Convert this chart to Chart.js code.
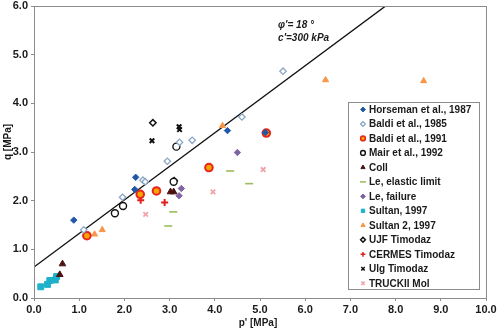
<!DOCTYPE html>
<html>
<head>
<meta charset="utf-8">
<script src="https://cdn.jsdelivr.net/npm/chart.js@4.4.0/dist/chart.umd.min.js"></script>
<style>
  html, body { margin: 0; padding: 0; background: #fff; }
  #wrap { width: 498px; height: 329px; }
</style>
</head>
<body>
<div id="wrap"><canvas id="chart" width="498" height="329"></canvas></div>
<script>
// values (p' and q in MPa)
const horsemanX = [0.88, 2.23, 2.25, 4.28, 5.12];
const horsemanY = [1.60, 2.23, 2.48, 3.44, 3.40];
const baldi85X = [1.10, 1.96, 2.41, 2.46, 2.95, 3.22, 3.50, 4.60, 5.51];
const baldi85Y = [1.40, 2.07, 2.42, 2.39, 2.81, 3.20, 3.24, 3.72, 4.66];
const baldi91X = [1.17, 2.35, 2.71, 3.87, 5.14];
const baldi91Y = [1.28, 2.13, 2.20, 2.68, 3.39];
const mairX = [1.79, 1.97, 3.09, 3.15];
const mairY = [1.74, 1.89, 2.39, 3.11];
const collX = [0.57, 0.63, 3.02, 3.09];
const collY = [0.48, 0.70, 2.18, 2.18];
const leElasticX = [2.97, 3.08, 4.34, 4.76];
const leElasticY = [1.48, 1.77, 2.61, 2.35];
const leFailureX = [3.21, 3.26, 4.50];
const leFailureY = [2.10, 2.25, 2.99];
const sultanX = [0.15, 0.30, 0.35, 0.47, 0.50];
const sultanY = [0.23, 0.28, 0.36, 0.37, 0.44];
const sultan2X = [1.34, 1.51, 4.17, 6.45, 8.62];
const sultan2Y = [1.31, 1.40, 3.54, 4.48, 4.46];
const ujfX = [2.63, 3.10];
const ujfY = [3.60, 2.41];
const cermesX = [2.36, 2.89];
const cermesY = [2.01, 1.96];
const ulgX = [2.61, 3.21, 3.22];
const ulgY = [3.23, 3.52, 3.46];
const truckiiX = [2.47, 3.96, 5.07];
const truckiiY = [1.72, 2.18, 2.64];

// failure line phi'=18, c'=300 kPa
const failX = [0, 7.78];
const failY = [0.636, 6.0];

const xTicks = [0, 1, 2, 3, 4, 5, 6, 7, 8, 9, 10];
const yTicks = [0, 1, 2, 3, 4, 5, 6];

const pts = (xs, ys) => xs.map((x, i) => ({ x: x, y: ys[i] }));

const series = [
  { label: "Horseman et al., 1987", x: horsemanX, y: horsemanY, style: "rectRot", r: 3.2, fill: "#2058a8", line: "#2058a8", bw: 1 },
  { label: "Baldi et al., 1985", x: baldi85X, y: baldi85Y, style: "rectRot", r: 3.2, fill: "#ffffff", line: "#8ba6c6", bw: 1.3 },
  { label: "Baldi et al., 1991", x: baldi91X, y: baldi91Y, style: "circle", r: 3.8, fill: "#f5a300", line: "#e8231c", bw: 2 },
  { label: "Mair et al., 1992", x: mairX, y: mairY, style: "circle", r: 3.5, fill: "#ffffff", line: "#111111", bw: 1.4 },
  { label: "Coll", x: collX, y: collY, style: "triangle", r: 3.8, fill: "#4a1212", line: "#4a1212", bw: 1 },
  { label: "Le, elastic limit", x: leElasticX, y: leElasticY, style: "line", r: 4, fill: "#9bbb59", line: "#9bbb59", bw: 1.6 },
  { label: "Le, failure", x: leFailureX, y: leFailureY, style: "rectRot", r: 3.2, fill: "#8064a2", line: "#8064a2", bw: 1 },
  { label: "Sultan, 1997", x: sultanX, y: sultanY, style: "rect", r: 4.2, fill: "#1fb1cb", line: "#1fb1cb", bw: 1 },
  { label: "Sultan 2, 1997", x: sultan2X, y: sultan2Y, style: "triangle", r: 3.5, fill: "#f79646", line: "#f79646", bw: 1 },
  { label: "UJF Timodaz", x: ujfX, y: ujfY, style: "rectRot", r: 3.2, fill: "#ffffff", line: "#111111", bw: 1.5 },
  { label: "CERMES Timodaz", x: cermesX, y: cermesY, style: "cross", r: 3.5, fill: "#e0201c", line: "#e0201c", bw: 2 },
  { label: "Ulg Timodaz", x: ulgX, y: ulgY, style: "crossRot", r: 3.2, fill: "#111111", line: "#111111", bw: 2 },
  { label: "TRUCKII Mol", x: truckiiX, y: truckiiY, style: "crossRot", r: 3.2, fill: "#f2a3aa", line: "#f2a3aa", bw: 1.8 }
];

const datasets = series.map(s => ({
  label: s.label,
  data: pts(s.x, s.y),
  pointStyle: s.style,
  pointRadius: s.r,
  pointHoverRadius: s.r,
  pointBackgroundColor: s.fill,
  pointBorderColor: s.line,
  pointBorderWidth: s.bw,
  backgroundColor: s.fill,
  borderColor: s.line,
  showLine: false
}));

datasets.unshift({
  label: "fail",
  data: pts(failX, failY),
  showLine: true,
  pointRadius: 0,
  borderColor: "#111111",
  borderWidth: 1.4,
  fill: false,
  order: 20
});

const tickFont = { family: "Liberation Sans, Arial, sans-serif", size: 11, weight: "bold" };

// frame, titles, annotation and legend box
const extras = {
  id: "extras",
  afterDraw(chart) {
    const ctx = chart.ctx;
    const a = chart.chartArea;
    const xs = chart.scales.x, ys = chart.scales.y;
    ctx.save();
    ctx.strokeStyle = "#8c8c8c";
    ctx.lineWidth = 1;
    ctx.strokeRect(Math.round(a.left) + 0.5, Math.round(a.top) + 0.5,
      Math.round(a.right - a.left), Math.round(a.bottom - a.top));

    ctx.fillStyle = "#1a1a1a";
    ctx.font = "bold 10px Liberation Sans, Arial, sans-serif";
    ctx.textAlign = "center";
    ctx.textBaseline = "middle";
    ctx.fillText("p' [MPa]", (a.left + a.right) / 2 - 2, 323);
    ctx.save();
    ctx.translate(8, 142);
    ctx.rotate(-Math.PI / 2);
    ctx.fillText("q [MPa]", 0, 0);
    ctx.restore();

    ctx.font = "italic bold 10px Liberation Sans, Arial, sans-serif";
    ctx.textAlign = "left";
    ctx.fillText("\u03C6'= 18 \u00B0", xs.getPixelForValue(5.4), ys.getPixelForValue(5.6));
    ctx.fillText("c'=300 kPa", xs.getPixelForValue(5.4), ys.getPixelForValue(5.33));

    // legend
    const bx = 348, by = 102, bw = 131, bh = 187;
    ctx.fillStyle = "#ffffff";
    ctx.fillRect(bx, by, bw, bh);
    ctx.strokeStyle = "#8c8c8c";
    ctx.strokeRect(bx + 0.5, by + 0.5, bw, bh);
    ctx.font = "bold 10px Liberation Sans, Arial, sans-serif";
    ctx.textBaseline = "middle";
    series.forEach((s, i) => {
      const cy = 109.5 + i * 14.48;
      ctx.fillStyle = s.fill;
      ctx.strokeStyle = s.line;
      ctx.lineWidth = Math.min(s.bw, 1.5);
      Chart.helpers.drawPoint(ctx, {
        pointStyle: s.style,
        radius: s.style === "line" ? 3 : 2.4,
        rotation: 0,
        borderWidth: Math.min(s.bw, 1.5)
      }, 363, cy);
      ctx.fillStyle = "#1a1a1a";
      ctx.fillText(s.label, 369, cy + 0.5);
    });
    ctx.restore();
  }
};

new Chart(document.getElementById("chart"), {
  type: "scatter",
  data: { datasets: datasets },
  options: {
    responsive: false,
    animation: false,
    events: [],
    layout: { autoPadding: false, padding: { top: 6, right: 12, left: 0, bottom: 0 } },
    plugins: { legend: { display: false }, tooltip: { enabled: false } },
    scales: {
      x: {
        type: "linear",
        min: 0, max: 10,
        afterBuildTicks: s => { s.ticks = xTicks.map(v => ({ value: v })); },
        afterFit: s => { s.height = 31; s.paddingLeft = 0; s.paddingRight = 0; },
        grid: { drawOnChartArea: false, drawTicks: true, tickLength: 3, color: "#8c8c8c" },
        border: { display: true, color: "#8c8c8c" },
        ticks: { font: tickFont, color: "#1a1a1a", padding: 2, maxRotation: 0,
          callback: v => Number(v).toFixed(1) }
      },
      y: {
        type: "linear",
        min: 0, max: 6,
        afterBuildTicks: s => { s.ticks = yTicks.map(v => ({ value: v })); },
        afterFit: s => { s.width = 34; s.paddingTop = 0; s.paddingBottom = 0; },
        grid: { drawOnChartArea: false, drawTicks: true, tickLength: 3, color: "#8c8c8c" },
        border: { display: true, color: "#8c8c8c" },
        ticks: { font: tickFont, color: "#1a1a1a", padding: 3,
          callback: v => Number(v).toFixed(1) }
      }
    }
  },
  plugins: [extras]
});
</script>
</body>
</html>
